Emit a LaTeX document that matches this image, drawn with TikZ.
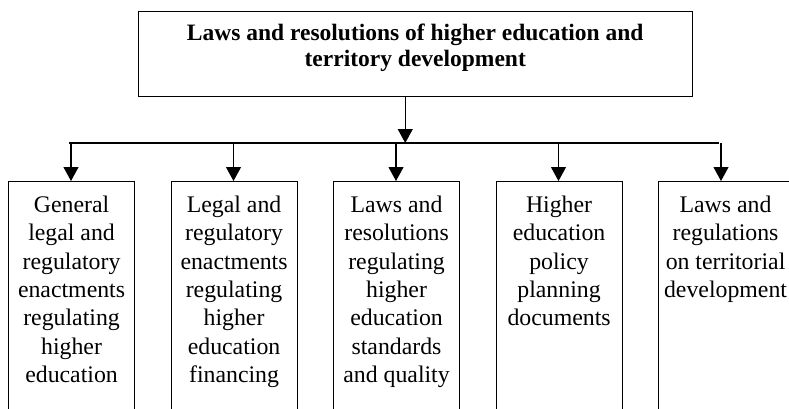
\documentclass[tikz,border=0pt]{standalone}
\usepackage{fontspec}
\setmainfont{Liberation Serif}
\usetikzlibrary{arrows.meta, positioning, calc}

\begin{document}
\begin{tikzpicture}[x=1pt, y=1pt, >={Triangle[width=15pt, length=14pt]}, line width=1.1pt,
    titlebox/.style={draw, anchor=north west, align=flush center, text width=550pt, inner xsep=2pt,
        inner ysep=12pt, text height=17pt, text depth=44pt, font=\fontsize{23.5}{26}\selectfont\bfseries},
    lawbox/.style={draw, anchor=north west, align=flush center, text width=122pt, inner xsep=2pt,
        inner ysep=14pt, text height=17pt, text depth=260pt, font=\fontsize{23.8}{28.3}\selectfont}]

    % frame of the picture, boxes run off the bottom
    \useasboundingbox (0, 0) rectangle (789, -409);
    \clip (0, 0) rectangle (789, -409);

    \node[titlebox] (top) at (137.7, -11) {Laws and resolutions of higher education and\\ territory development};

    \node[lawbox] (b1) at (8, -181) {General\\ legal and\\ regulatory\\ enactments\\ regulating\\ higher\\ education};
    \node[lawbox, right=35.4pt of b1.north east, anchor=north west] (b2) {Legal and\\ regulatory\\ enactments\\ regulating\\ higher\\ education\\ financing};
    \node[lawbox, right=35.4pt of b2.north east, anchor=north west] (b3) {Laws and\\ resolutions\\ regulating\\ higher\\ education\\ standards\\ and quality};
    \node[lawbox, right=35.4pt of b3.north east, anchor=north west] (b4) {Higher\\ education\\ policy\\ planning\\ documents};
    \node[lawbox, text width=130pt, right=35.4pt of b4.north east, anchor=north west] (b5) {Laws and\\ regulations\\ on territorial\\ development};

    % bus line
    \coordinate (bus) at (0, -143);
    \draw[->] ([xshift=-10pt]top.south) -- ([xshift=-10pt]top.south |- bus);
    \draw ([xshift=61pt]b1.north west |- bus) -- ([xshift=61pt]b5.north west |- bus);
    \foreach \i in {1,...,5}
        \draw[->] ([xshift=63pt]b\i.north west |- bus) -- ([xshift=63pt]b\i.north west);

\end{tikzpicture}
\end{document}
